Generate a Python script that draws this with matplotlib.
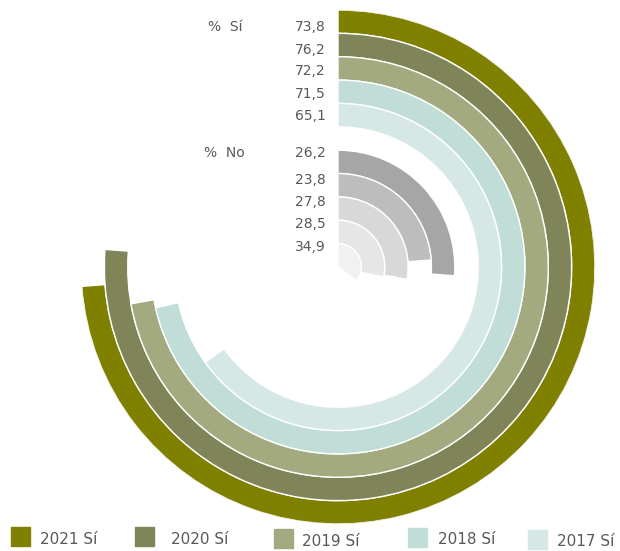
import numpy as np
import matplotlib.pyplot as plt
from matplotlib.patches import Rectangle

years = ['2021', '2020', '2019', '2018', '2017']
si_values = [73.8, 76.2, 72.2, 71.5, 65.1]
no_values = [26.2, 23.8, 27.8, 28.5, 34.9]
si_labels = ['73,8', '76,2', '72,2', '71,5', '65,1']
no_labels = ['26,2', '23,8', '27,8', '28,5', '34,9']
si_colors = ['#808000', '#7f8459', '#a4aa80', '#c1ddd8', '#d6e8e6']
no_colors = ['#a6a6a6', '#bdbdbd', '#d8d8d8', '#e6e6e6', '#f1f1f1']

W, H = 620, 551
text_color = '#595959'


def px(x, y):
    return x / W, 1 - y / H


fig = plt.figure(figsize=(W / 100, H / 100), dpi=100)
cx, cy, R = 338, 267, 257
ax = fig.add_axes([(cx - R) / W, (H - cy - R) / H, 2 * R / W, 2 * R / H],
                  projection='polar')
ax.set_theta_zero_location('N')
ax.set_theta_direction(-1)

# 11 ring slots: 5 for Sí, one empty, 5 for No
radii_si = [10.5 - i for i in range(5)]
radii_no = [4.5 - i for i in range(5)]
ax.barh(radii_si, np.array(si_values) / 100 * 2 * np.pi, height=1.0, left=0,
        color=si_colors, edgecolor='white', linewidth=1.0, align='center')
ax.barh(radii_no, np.array(no_values) / 100 * 2 * np.pi, height=1.0, left=0,
        color=no_colors, edgecolor='white', linewidth=1.0, align='center')
ax.set_ylim(0, 11)
ax.set_axis_off()

# value labels
fs = 10
fig.text(*px(208, 27), '%  Sí', ha='left', va='center', fontsize=fs, color=text_color)
si_y = [27, 50, 71, 94, 116]
for y, lab in zip(si_y, si_labels):
    fig.text(*px(326, y), lab, ha='right', va='center', fontsize=fs, color=text_color)

fig.text(*px(204, 153), '%  No', ha='left', va='center', fontsize=fs, color=text_color)
no_y = [153, 180, 202, 224, 247]
for y, lab in zip(no_y, no_labels):
    fig.text(*px(326, y), lab, ha='right', va='center', fontsize=fs, color=text_color)

# legend
sq_x = [11, 135, 274, 408, 528]
sq_top = [527, 527, 529, 528, 530]
txt_x = [40, 171, 302, 438, 557]
txt_y = [540, 540, 542, 540, 541]
for i in range(5):
    x0, y0 = px(sq_x[i], sq_top[i] + 19)
    fig.patches.append(Rectangle((x0, y0), 19 / W, 19 / H, transform=fig.transFigure,
                                 color=si_colors[i], figure=fig))
    fig.text(*px(txt_x[i], txt_y[i]), years[i] + ' Sí', ha='left', va='center',
             fontsize=11, color=text_color)

fig.savefig('out.png', dpi=100)
